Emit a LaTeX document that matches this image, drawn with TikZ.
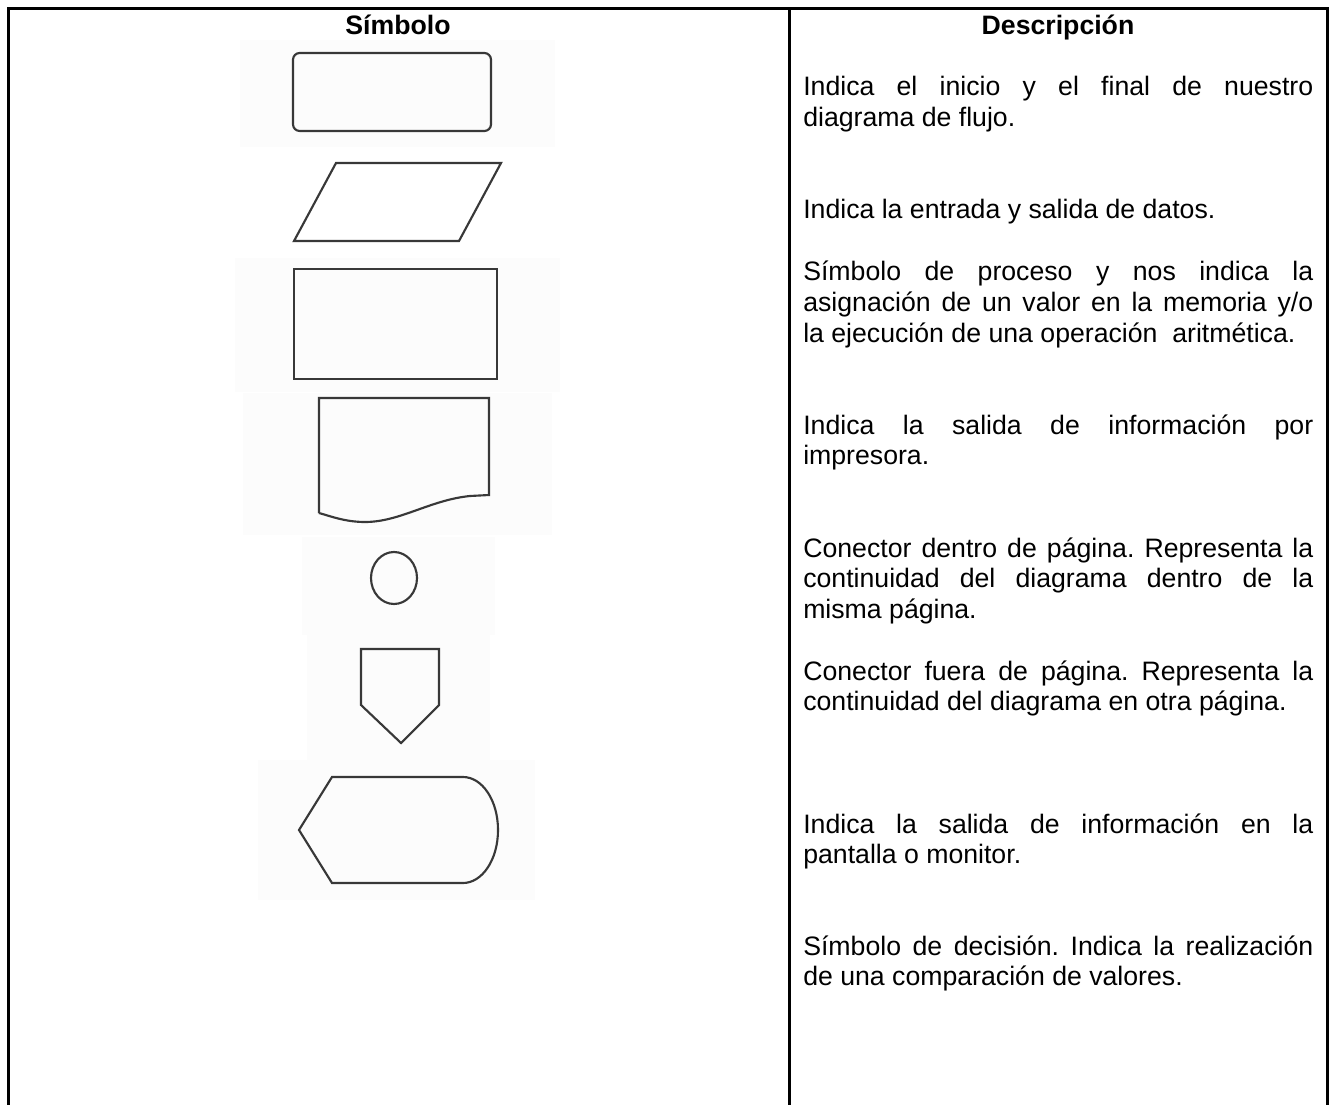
\documentclass[tikz,border=0pt]{standalone}
\usepackage{fontspec}
\setmainfont{Liberation Sans}
\usetikzlibrary{calc}
\frenchspacing
\hyphenpenalty=10000

\begin{document}
\begin{tikzpicture}[x=0.75pt,y=-0.75pt,
  rule/.style={line width=2.25pt},
  symb/.style={line width=1.6pt,draw=black!78},
  shade/.style={fill=black!1},
  head/.style={font=\bfseries\fontsize{20}{23}\selectfont,anchor=base},
  desc/.style={anchor=base west,inner sep=0pt,text width=382.5pt,align=justify,
    font=\fontsize{20}{23}\selectfont}]
\useasboundingbox (0,0) rectangle (1330,1105);

% light backgrounds of the pasted symbols
\fill[shade] (240,40) rectangle (555,147);
\fill[shade] (235,258) rectangle (560,392);
\fill[shade] (243,393) rectangle (552,535);
\fill[shade] (302,537) rectangle (495,635);
\fill[shade] (307,635) rectangle (490,760);
\fill[shade] (258,760) rectangle (535,900);

% table
\draw[rule] (8,1110) -- (8,9) -- (1327,9) -- (1327,1110);
\draw[rule] (789,9) -- (789,1110);
\node[head] (hsym) at (398,35) {Símbolo};
\node[head] (hdesc) at (1058,35) {Descripción};

% symbols
\draw[symb,rounded corners=5pt] (293,53) rectangle (491,131);
\draw[symb] (336,163) -- (501,163) -- (459,241) -- (294,241) -- cycle;
\draw[symb] (294,269) rectangle (497,379);
\draw[symb] (319,513) -- (319,398) -- (489,398) -- (489,495) -- (470,496)
  .. controls (430,500) and (400,522) .. (365,522)
  .. controls (345,522) and (330,516) .. (319,513);
\draw[symb] (394,578) ellipse (23 and 26);
\draw[symb] (361,649) -- (439,649) -- (439,705) -- (401,743) -- (361,705) -- cycle;
\draw[symb] (299,830) -- (332,777) -- (463,777)
  .. controls (482,777) and (498,800) .. (498,830)
  .. controls (498,860) and (482,883) .. (463,883) -- (332,883) -- cycle;

% descriptions
\node[desc] (dterm) at (803,96) {Indica el inicio y el final de nuestro\linebreak diagrama de flujo.};
\node[desc] (dio) at (803,219) {Indica la entrada y salida de datos.};
\node[desc] (dproc) at (803,281) {Símbolo de proceso y nos indica la\linebreak asignación de un valor en la memoria y/o\linebreak la ejecución de una operación~ aritmética.};
\node[desc] (dprint) at (803,434) {Indica la salida de información por\linebreak impresora.};
\node[desc] (dconin) at (803,557) {Conector dentro de página. Representa la\linebreak continuidad del diagrama dentro de la\linebreak misma página.};
\node[desc] (dconout) at (803,680) {Conector fuera de página. Representa la\linebreak continuidad del diagrama en otra página.};
\node[desc] (dscreen) at (803,833) {Indica la salida de información en la\linebreak pantalla o monitor.};
\node[desc] (ddec) at (803,955) {Símbolo de decisión. Indica la realización\linebreak de una comparación de valores.};
\end{tikzpicture}
\end{document}
